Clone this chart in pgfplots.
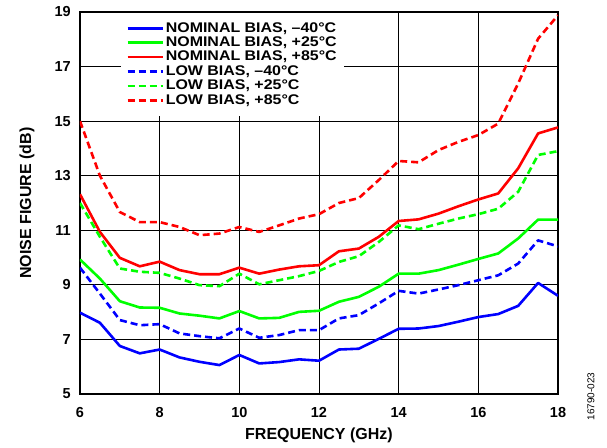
\documentclass[border=0pt]{standalone}
\usepackage{fontspec}
\setmainfont{Liberation Sans Bold}
\newfontfamily\legfont{Liberation Sans Bold}[FakeStretch=1.14]
\newfontfamily\regfont{Liberation Sans}
\usepackage{pgfplots}
\pgfplotsset{compat=1.18}
\definecolor{cblue}{RGB}{0,0,255}
\definecolor{cgreen}{RGB}{0,255,0}
\definecolor{cred}{RGB}{255,0,0}
\begin{document}
\begin{tikzpicture}
\useasboundingbox (-80bp,-54bp) rectangle (527bp,394bp);
\begin{axis}[
  at={(0,0)}, anchor=south west,
  scale only axis, width=478bp, height=382bp,
  xmin=6, xmax=18, ymin=5, ymax=19,
  xtick={6,8,...,18}, ytick={5,7,...,19},
  grid=major,
  major grid style={black, line width=0.8bp},
  axis line style={black, line width=1.6bp},
  major tick length=0pt,
  /pgf/number format/assume math mode=true,
  tick label style={font=\fontsize{14.5bp}{16bp}\selectfont},
  x tick label style={anchor=center, yshift=-18.5bp},
  y tick label style={anchor=east, inner sep=0pt, xshift=-9bp},
  xlabel={FREQUENCY (GHz)},
  ylabel={NOISE FIGURE (dB)},
  every axis x label/.style={at={(axis description cs:0.5,0)}, anchor=center, yshift=-41bp, font=\fontsize{16bp}{18bp}\selectfont},
  every axis y label/.style={at={(axis description cs:-0.111,0.5)}, anchor=center, rotate=90, font=\fontsize{16bp}{18bp}\selectfont},
  legend cell align=left,
  legend image code/.code={\draw[line width=2.6bp, #1] (0bp,0bp) -- (35bp,0bp);},
  legend style={at={(rel axis cs:0.0858,1)}, anchor=north west, yshift=-1bp,
    draw=none, fill=white, inner xsep=5bp, inner ysep=8bp, row sep=0pt,
    font=\legfont\fontsize{14bp}{16bp}\selectfont,
    nodes={inner ysep=1bp, inner xsep=2bp, text height=10bp, text depth=2.4bp}},
  every axis plot/.append style={line width=2.6bp, line join=round},
]
\addplot[cblue] coordinates {(6,7.98)(6.5,7.61)(7,6.76)(7.5,6.49)(8,6.63)(8.5,6.34)(9,6.18)(9.5,6.06)(10,6.43)(10.5,6.12)(11,6.17)(11.5,6.27)(12,6.22)(12.5,6.63)(13,6.66)(13.5,7.02)(14,7.39)(14.5,7.40)(15,7.49)(15.5,7.65)(16,7.82)(16.5,7.93)(17,8.23)(17.5,9.07)(18,8.60)};
\addlegendentry{NOMINAL BIAS, \textendash40°C}
\addplot[cgreen] coordinates {(6,9.93)(6.5,9.23)(7,8.40)(7.5,8.17)(8,8.16)(8.5,7.95)(9,7.87)(9.5,7.77)(10,8.04)(10.5,7.77)(11,7.79)(11.5,8.01)(12,8.05)(12.5,8.38)(13,8.56)(13.5,8.93)(14,9.41)(14.5,9.41)(15,9.54)(15.5,9.74)(16,9.95)(16.5,10.15)(17,10.70)(17.5,11.39)(18,11.39)};
\addlegendentry{NOMINAL BIAS, +25°C}
\addplot[cred] coordinates {(6,12.32)(6.5,10.94)(7,9.99)(7.5,9.68)(8,9.85)(8.5,9.54)(9,9.39)(9.5,9.39)(10,9.63)(10.5,9.41)(11,9.56)(11.5,9.68)(12,9.72)(12.5,10.23)(13,10.33)(13.5,10.76)(14,11.34)(14.5,11.40)(15,11.61)(15.5,11.88)(16,12.13)(16.5,12.35)(17,13.27)(17.5,14.55)(18,14.77)};
\addlegendentry{NOMINAL BIAS, +85°C}
\addplot[cblue, dash pattern=on 7bp off 4bp] coordinates {(6,9.63)(6.5,8.68)(7,7.71)(7.5,7.52)(8,7.56)(8.5,7.22)(9,7.12)(9.5,7.04)(10,7.40)(10.5,7.06)(11,7.16)(11.5,7.34)(12,7.34)(12.5,7.77)(13,7.89)(13.5,8.32)(14,8.78)(14.5,8.68)(15,8.83)(15.5,8.99)(16,9.17)(16.5,9.35)(17,9.78)(17.5,10.63)(18,10.41)};
\addlegendentry{LOW BIAS, \textendash40°C}
\addplot[cgreen, dash pattern=on 7bp off 4bp] coordinates {(6,12.0)(6.5,10.76)(7,9.60)(7.5,9.48)(8,9.44)(8.5,9.23)(9,8.99)(9.5,8.95)(10,9.41)(10.5,9.02)(11,9.17)(11.5,9.32)(12,9.51)(12.5,9.84)(13,10.05)(13.5,10.57)(14,11.18)(14.5,11.04)(15,11.24)(15.5,11.43)(16,11.59)(16.5,11.79)(17,12.41)(17.5,13.76)(18,13.90)};
\addlegendentry{LOW BIAS, +25°C}
\addplot[cred, dash pattern=on 7bp off 4bp] coordinates {(6,15.0)(6.5,13.0)(7,11.67)(7.5,11.30)(8,11.30)(8.5,11.12)(9,10.82)(9.5,10.88)(10,11.12)(10.5,10.94)(11,11.18)(11.5,11.43)(12,11.59)(12.5,12.0)(13,12.18)(13.5,12.84)(14,13.54)(14.5,13.49)(15,13.94)(15.5,14.24)(16,14.49)(16.5,14.91)(17,16.38)(17.5,18.02)(18,18.88)};
\addlegendentry{LOW BIAS, +85°C}
\end{axis}
\node[rotate=90, font=\regfont\fontsize{10bp}{11bp}\selectfont, anchor=center] at (511bp,-2.5bp) {16790-023};
\end{tikzpicture}
\end{document}
